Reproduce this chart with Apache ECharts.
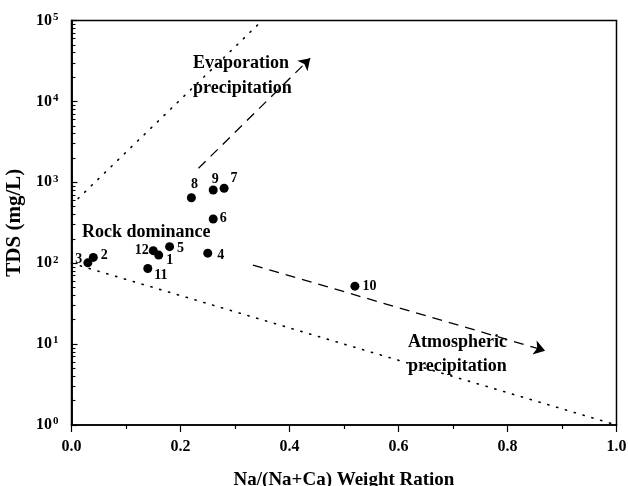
<!DOCTYPE html>
<html>
<head>
<meta charset="utf-8">
<style>
  html, body { margin: 0; padding: 0; background: #fff; }
  #chart { width: 628px; height: 486px; }
</style>
<script src="https://cdn.jsdelivr.net/npm/echarts@6/dist/echarts.min.js"></script>
</head>
<body>
<div id="chart"></div>
<script>
// sample points: Na/(Na+Ca) ratio vs TDS (mg/L)
const sampleNames = ['1', '2', '3', '4', '5', '6', '7', '8', '9', '10', '11', '12']
const sampleRatio = [0.16, 0.04, 0.03, 0.25, 0.18, 0.26, 0.28, 0.22, 0.26, 0.52, 0.14, 0.15]
const sampleTDS = [126, 118, 101, 133, 160, 352, 843, 645, 804, 52, 86, 143]

// Gibbs boundary lines (dotted)
const upperBoundX = [0, 0.35]
const upperBoundY = [525, 100000]
const lowerBoundX = [0, 1]
const lowerBoundY = [100, 1]

// trend arrows (dashed)
const evapArrow = [[0.233, 1490], [0.438, 34100]]
const atmoArrow = [[0.333, 95], [0.869, 8.3]]

// axis ticks
const xTicks = [0, 0.2, 0.4, 0.6, 0.8, 1.0]
const yExponents = ['0', '1', '2', '3', '4', '5']
const yMinorSteps = [2, 3, 4, 5, 6, 7, 8, 9]
const yDecades = [1, 10, 100, 1000, 10000]

const FONT = '"Liberation Serif", "Times New Roman", serif'

// label placement per sample (style only)
const labelPlace = {
  '1': ['right', [1, 5]],
  '2': ['right', [1, -2]],
  '3': ['left', [1, -3]],
  '4': ['right', [3, 2]],
  '5': ['right', [1, 2]],
  '6': ['right', [0, -1]],
  '7': ['right', [0, -10]],
  '8': ['top', [3, 0]],
  '9': ['top', [2, 3]],
  '10': ['right', [1, 0]],
  '11': ['right', [0, 7]],
  '12': ['left', [2, 0]],
}

const yMinorValues = []
yDecades.forEach(d => yMinorSteps.forEach(s => yMinorValues.push(d * s)))

const chart = echarts.init(document.getElementById('chart'))

const points = sampleNames.map((name, i) => ({
  name,
  value: [sampleRatio[i], sampleTDS[i]],
  label: { position: labelPlace[name][0], offset: labelPlace[name][1] },
}))

const textStyle = (x, y, text) => ({
  type: 'text',
  x, y,
  style: {
    text,
    font: 'bold 18px ' + FONT,
    fill: '#000',
    verticalAlign: 'middle',
  },
})

chart.setOption({
  animation: false,
  backgroundColor: '#fff',
  grid: {
    left: 71.5,
    right: 11.5,
    top: 20.5,
    bottom: 61,
    outerBoundsMode: 'none',
    containLabel: false,
    show: true,
    borderColor: '#000',
    borderWidth: 1.5,
  },
  xAxis: {
    type: 'value',
    min: 0,
    max: 1,
    interval: 0.2,
    name: 'Na/(Na+Ca) Weight Ration',
    nameLocation: 'middle',
    nameGap: 46,
    nameTextStyle: { fontFamily: FONT, fontWeight: 'bold', fontSize: 19, color: '#000' },
    axisLine: { lineStyle: { color: '#000', width: 1.5 } },
    axisTick: { inside: false, length: 7, lineStyle: { color: '#000', width: 1.2 } },
    minorTick: { show: true, splitNumber: 2, length: 4, lineStyle: { color: '#000', width: 1.2 } },
    splitLine: { show: false },
    axisLabel: {
      margin: 14,
      fontFamily: FONT,
      fontWeight: 'bold',
      fontSize: 16,
      color: '#000',
      customValues: xTicks,
      formatter: v => v.toFixed(1),
    },
  },
  yAxis: [
    {
      type: 'log',
      logBase: 10,
      min: 1,
      max: 100000,
      name: 'TDS (mg/L)',
      nameLocation: 'middle',
      nameGap: 39,
      nameTextStyle: { fontFamily: FONT, fontWeight: 'bold', fontSize: 21, color: '#000' },
      axisLine: { lineStyle: { color: '#000', width: 1.5 } },
      axisTick: { inside: true, length: 6, lineStyle: { color: '#000', width: 1.2 } },
      splitLine: { show: false },
      axisLabel: {
        margin: 13,
        formatter: v => '{b|10}{s|' + yExponents[Math.round(Math.log10(v))] + '}',
        rich: {
          b: { fontFamily: FONT, fontWeight: 'bold', fontSize: 16, color: '#000', lineHeight: 18 },
          s: { fontFamily: FONT, fontWeight: 'bold', fontSize: 11, color: '#000', lineHeight: 11, verticalAlign: 'top', padding: [0, 0, 0, 1] },
        },
      },
    },
    {
      // minor ticks at 2..9 x 10^n
      type: 'log',
      logBase: 10,
      min: 1,
      max: 100000,
      position: 'left',
      offset: 0,
      axisLine: { show: true, lineStyle: { color: '#000', width: 1.5 } },
      axisLabel: { show: false },
      splitLine: { show: false },
      axisTick: { show: true, inside: true, length: 4, customValues: yMinorValues, lineStyle: { color: '#000', width: 1.1 } },
    },
  ],
  series: [
    {
      type: 'line',
      data: upperBoundX.map((x, i) => [x, upperBoundY[i]]),
      symbol: 'none',
      silent: true,
      lineStyle: { color: '#000', width: 1.6, type: [1.2, 8], cap: 'round' },
    },
    {
      type: 'line',
      data: lowerBoundX.map((x, i) => [x, lowerBoundY[i]]),
      symbol: 'none',
      silent: true,
      lineStyle: { color: '#000', width: 1.6, type: [1.2, 8], cap: 'round' },
    },
    {
      type: 'lines',
      coordinateSystem: 'cartesian2d',
      symbol: ['none', 'arrow'],
      symbolSize: 11,
      silent: true,
      lineStyle: { color: '#000', width: 1.3, type: [10, 7], opacity: 1 },
      data: [{ coords: evapArrow }, { coords: atmoArrow }],
    },
    {
      type: 'scatter',
      symbol: 'circle',
      symbolSize: 9,
      itemStyle: { color: '#000', opacity: 1 },
      label: {
        show: true,
        distance: 2,
        formatter: p => p.name,
        fontFamily: FONT,
        fontWeight: 'bold',
        fontSize: 14,
        color: '#000',
      },
      data: points,
    },
  ],
  graphic: [
    textStyle(193, 63, 'Evaporation'),
    textStyle(193, 88, 'precipitation'),
    textStyle(82, 232, 'Rock dominance'),
    textStyle(408, 342, 'Atmospheric'),
    textStyle(408, 366, 'precipitation'),
  ],
})
</script>
</body>
</html>
